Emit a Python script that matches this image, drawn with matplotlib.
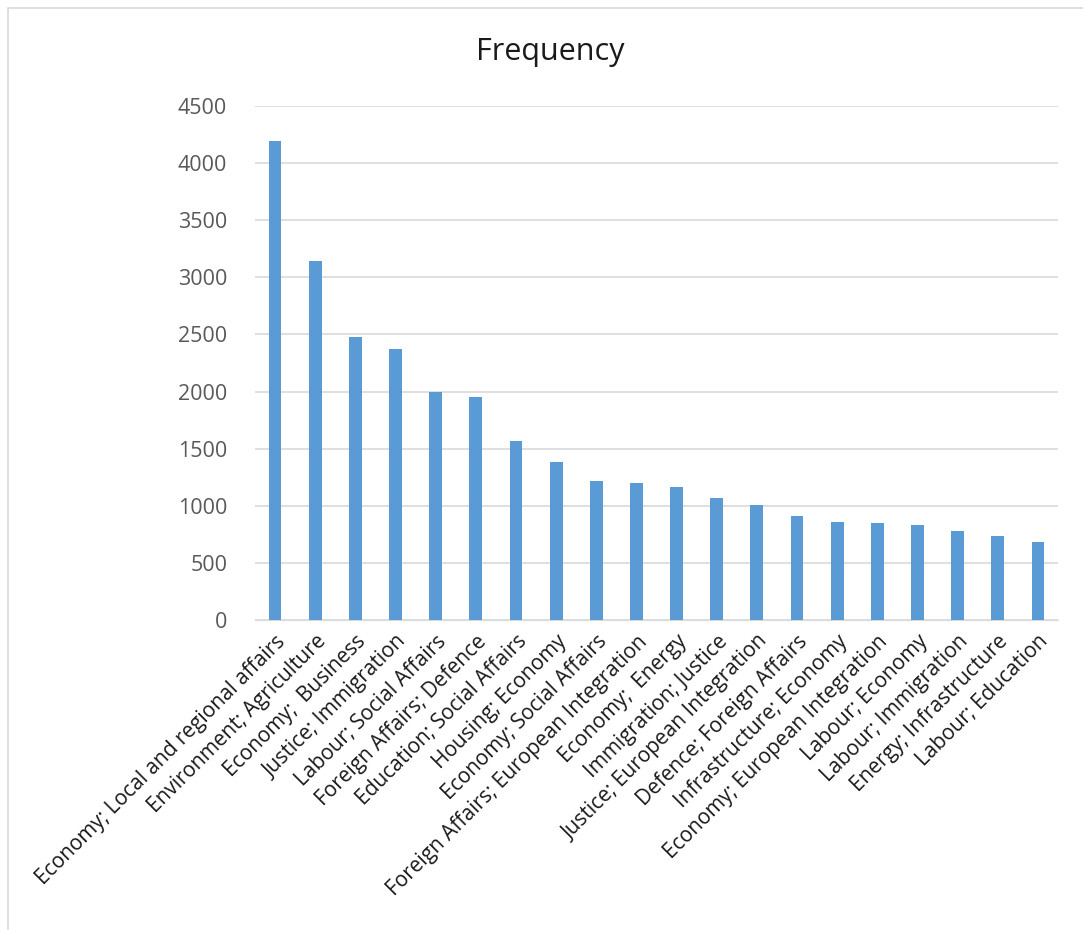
import matplotlib
matplotlib.use("Agg")
import matplotlib.pyplot as plt
from matplotlib.patches import Rectangle

categories = [
    "Economy; Local and regional affairs",
    "Environment; Agriculture",
    "Economy;  Business",
    "Justice; Immigration",
    "Labour; Social Affairs",
    "Foreign Affairs; Defence",
    "Education; Social Affairs",
    "Housing; Economy",
    "Economy; Social Affairs",
    "Foreign Affairs; European Integration",
    "Economy;  Energy",
    "Immigration; Justice",
    "Justice; European Integration",
    "Defence; Foreign Affairs",
    "Infrastructure; Economy",
    "Economy; European Integration",
    "Labour; Economy",
    "Labour; Immigration",
    "Energy; Infrastructure",
    "Labour; Education",
]
frequency = [4190, 3140, 2480, 2370, 1995, 1955, 1570, 1380, 1220, 1200,
             1165, 1065, 1005, 907, 861, 849, 828, 781, 738, 683]
y_ticks = [0, 500, 1000, 1500, 2000, 2500, 3000, 3500, 4000, 4500]

plt.rcParams["font.family"] = ["Open Sans", "DejaVu Sans"]

W, H = 1083, 930
fig = plt.figure(figsize=(W / 100, H / 100), dpi=100)
fig.patch.set_facecolor("white")

# chart frame
fig.add_artist(Rectangle((8 / W, -0.01), 1.02, 1 - 8 / H + 0.01,
                         transform=fig.transFigure, fill=False,
                         edgecolor="#d9d9d9", linewidth=1.2))

ax = fig.add_axes([255 / W, 1 - 620 / H, (1058 - 255) / W, (620 - 106) / H])
x = range(len(categories))
ax.bar(x, frequency, width=0.32, color="#5B9BD5", zorder=3)

ax.set_xlim(-0.5, len(categories) - 0.5)
ax.set_ylim(0, 4500)
ax.set_yticks(y_ticks)
ax.set_yticklabels([str(v) for v in y_ticks], fontsize=15.5, color="#595959")
ax.yaxis.grid(True, color="#d9d9d9", linewidth=1.2, zorder=0)
ax.set_axisbelow(True)
for s in ax.spines.values():
    s.set_visible(False)
ax.spines["bottom"].set_visible(True)
ax.spines["bottom"].set_color("#d9d9d9")
ax.tick_params(axis="both", length=0)
ax.tick_params(axis="y", pad=20)

ax.set_xticks(list(x))
ax.set_xticklabels(categories, rotation=45, ha="right", va="top",
                   rotation_mode="anchor", fontsize=15, color="#1a1a1a")
ax.tick_params(axis="x", pad=8)

fig.text(550 / W, 1 - 52 / H, "Frequency", ha="center", va="center",
         fontsize=22, color="#1a1a1a")

fig.savefig("out.png", dpi=100, facecolor="white")
